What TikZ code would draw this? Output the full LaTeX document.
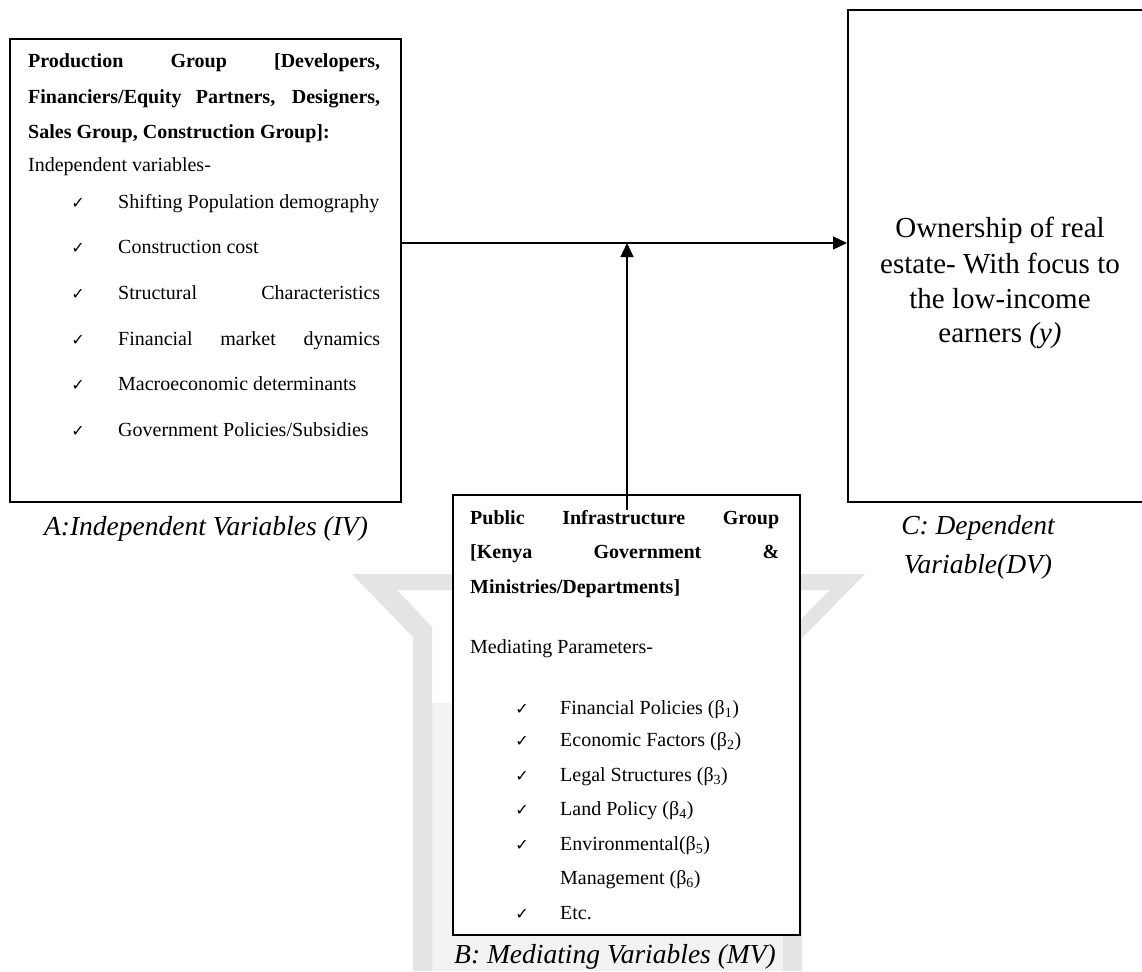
\documentclass[tikz,border=0pt]{standalone}
\usepackage{fontspec}
\setmainfont{Liberation Serif}
\newfontfamily\chkfont{DejaVu Sans}
\usetikzlibrary{arrows.meta}
\definecolor{wmdark}{gray}{0.895}
\definecolor{wmlight}{gray}{0.95}
\tikzset{
  box/.style={draw, line width=1.6pt, fill=white, inner sep=0pt, anchor=north west},
  txt/.style={anchor=base west, inner sep=0pt, font=\fontsize{20}{24}\selectfont},
  hd/.style={anchor=base west, inner sep=0pt, font=\fontsize{20}{24}\selectfont\bfseries},
  lbl/.style={anchor=base, inner sep=0pt, font=\fontsize{27.5}{33}\selectfont\itshape},
  ctxt/.style={anchor=base, inner sep=0pt, font=\fontsize{29}{35}\selectfont},
  ck/.style={anchor=base, inner sep=0pt, font=\chkfont\fontsize{16}{18}\selectfont},
  arr/.style={line width=1.3pt, -{Triangle[length=14pt,width=13pt]}}
}
\begin{document}
\begin{tikzpicture}[x=1pt,y=-1pt]
\useasboundingbox (0,0) rectangle (1142,971);
\fill[white] (0,0) rectangle (1142,971);
% faint watermark
\fill[wmlight] (432,703) rectangle (783,971);
\fill[wmdark] (352,574) -- (865,574) -- (802,638) -- (802,971) -- (783,971) -- (783,637)
  -- (830,590) -- (397,590) -- (432,627) -- (432,971) -- (413,971) -- (413,637) -- cycle;

% boxes
\node[box, minimum width=391pt, minimum height=463pt] (A) at (9,38) {};
\node[box, minimum width=347pt, minimum height=440pt] (B) at (452,494) {};
\node[box, minimum width=306pt, minimum height=492pt] (C) at (847,9) {};

% box A text
\node[hd] (a1) at (28,68) {\makebox[352pt][s]{Production Group [Developers,}};
\node[hd] (a2) at (28,104) {\makebox[352pt][s]{Financiers/Equity Partners, Designers,}};
\node[hd] (a3) at (28,139) {Sales Group, Construction Group]:};
\node[txt] (a4) at (28,171) {Independent variables-};
\node[ck] (ka5) at (78,208) {✓};
\node[txt] (a5) at (118,208) {Shifting Population demography};
\node[ck] (ka6) at (78,253.6) {✓};
\node[txt] (a6) at (118,253.6) {Construction cost};
\node[ck] (ka7) at (78,299) {✓};
\node[txt] (a7) at (118,299) {\makebox[262pt][s]{Structural Characteristics}};
\node[ck] (ka8) at (78,345) {✓};
\node[txt] (a8) at (118,345) {\makebox[262pt][s]{Financial market dynamics}};
\node[ck] (ka9) at (78,390) {✓};
\node[txt] (a9) at (118,390) {Macroeconomic determinants};
\node[ck] (ka10) at (78,436) {✓};
\node[txt] (a10) at (118,436) {Government Policies/Subsidies};

% box B text
\node[hd] (b1) at (470,524) {\makebox[309pt][s]{Public Infrastructure Group}};
\node[hd] (b2) at (470,558) {\makebox[309pt][s]{[Kenya Government \&}};
\node[hd] (b3) at (470,593) {Ministries/Departments]};
\node[txt] (b4) at (470,653) {Mediating Parameters-};
\node[ck] (kb5) at (522,714) {✓};
\node[txt] (b5) at (560,714) {Financial Policies (β\textsubscript{1})};
\node[ck] (kb6) at (522,746) {✓};
\node[txt] (b6) at (560,746) {Economic Factors (β\textsubscript{2})};
\node[ck] (kb7) at (522,781) {✓};
\node[txt] (b7) at (560,781) {Legal Structures (β\textsubscript{3})};
\node[ck] (kb8) at (522,815) {✓};
\node[txt] (b8) at (560,815) {Land Policy (β\textsubscript{4})};
\node[ck] (kb9) at (522,850) {✓};
\node[txt] (b9) at (560,850) {Environmental(β\textsubscript{5})};
\node[txt] (b10) at (560,884) {Management (β\textsubscript{6})};
\node[ck] (kb11) at (522,919) {✓};
\node[txt] (b11) at (560,919) {Etc.};

% box C text
\node[ctxt] (c1) at (1000,237) {Ownership of real};
\node[ctxt] (c2) at (1000,273) {estate- With focus to};
\node[ctxt] (c3) at (1000,308) {the low-income};
\node[ctxt] (c4) at (1000,342) {earners \textit{(y)}};

% labels
\node[lbl] (la) at (206,535) {A:Independent Variables (IV)};
\node[lbl] (lc1) at (978,534) {C: Dependent};
\node[lbl] (lc2) at (978,573) {Variable(DV)};
\node[lbl] (lb) at (615,963) {B: Mediating Variables (MV)};

% connectors
\coordinate (hy) at (0,243);
\coordinate (vs) at (627,510);
\draw[arr] (A.east |- hy) -- (C.west |- hy);
\draw[arr] (vs) -- (vs |- hy);
\end{tikzpicture}
\end{document}
